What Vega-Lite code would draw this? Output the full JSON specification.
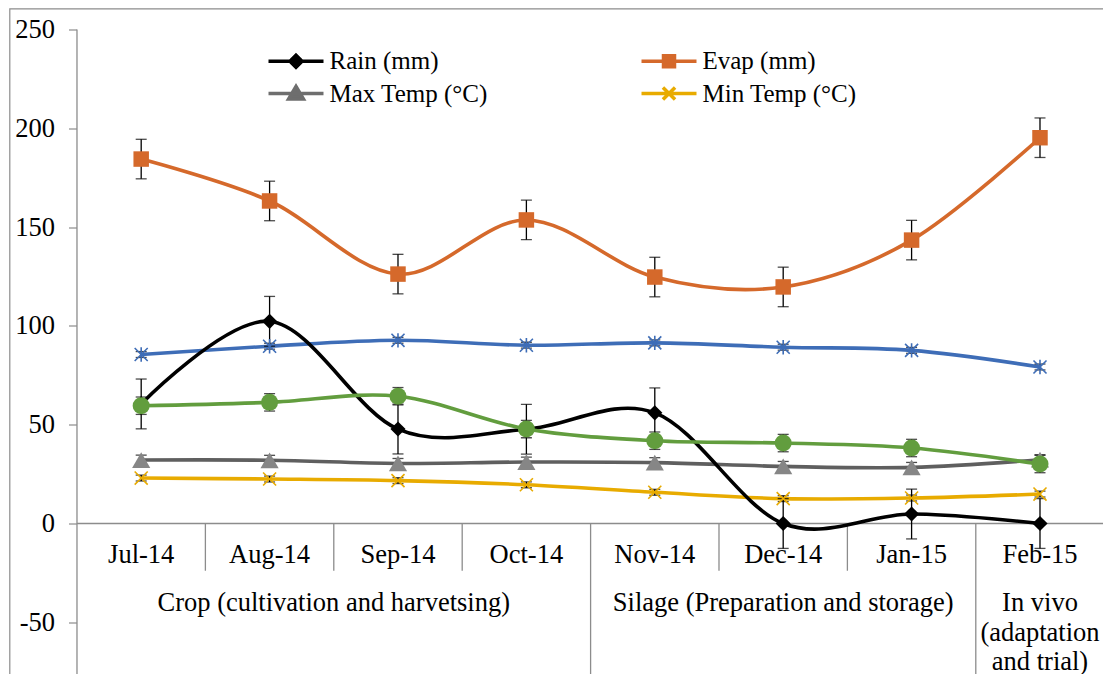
{
  "$schema": "https://vega.github.io/schema/vega-lite/v6.json",
  "width": 1096,
  "height": 668,
  "autosize": {"type": "none"},
  "padding": {"left": 9.5, "top": 8.5, "right": 0, "bottom": 0},
  "background": "white",
  "config": {
    "view": {"stroke": "#8c8c8c", "strokeWidth": 1.2},
    "font": "Liberation Serif",
    "axisX": {"disable": true},
    "axisY": {"domain": false, "grid": false, "ticks": true, "tickColor": "#8c8c8c", "tickWidth": 1.2, "tickSize": 8, "labelFont": "Liberation Serif", "labelFontSize": 26.5, "labelColor": "#000000", "labelPadding": 14, "offset": -67}
  },
  "datasets": {
    "main": [
      {"month": "Jul-14", "series": "Max Temp (°C)", "value": 32.1, "err": 2.5},
      {"month": "Aug-14", "series": "Max Temp (°C)", "value": 32.0, "err": 2.5},
      {"month": "Sep-14", "series": "Max Temp (°C)", "value": 30.4, "err": 2.5},
      {"month": "Oct-14", "series": "Max Temp (°C)", "value": 31.1, "err": 2.5},
      {"month": "Nov-14", "series": "Max Temp (°C)", "value": 30.8, "err": 2.5},
      {"month": "Dec-14", "series": "Max Temp (°C)", "value": 28.9, "err": 2.5},
      {"month": "Jan-15", "series": "Max Temp (°C)", "value": 28.4, "err": 2.5},
      {"month": "Feb-15", "series": "Max Temp (°C)", "value": 32.3, "err": 2.5},
      {"month": "Jul-14", "series": "Min Temp (°C)", "value": 23.0, "err": 1.5},
      {"month": "Aug-14", "series": "Min Temp (°C)", "value": 22.5, "err": 1.5},
      {"month": "Sep-14", "series": "Min Temp (°C)", "value": 21.7, "err": 1.5},
      {"month": "Oct-14", "series": "Min Temp (°C)", "value": 19.6, "err": 1.5},
      {"month": "Nov-14", "series": "Min Temp (°C)", "value": 15.8, "err": 1.5},
      {"month": "Dec-14", "series": "Min Temp (°C)", "value": 12.6, "err": 1.5},
      {"month": "Jan-15", "series": "Min Temp (°C)", "value": 12.9, "err": 1.5},
      {"month": "Feb-15", "series": "Min Temp (°C)", "value": 14.9, "err": 1.5},
      {"month": "Jul-14", "series": "Series 5", "value": 85.5, "err": 1.5},
      {"month": "Aug-14", "series": "Series 5", "value": 89.7, "err": 1.5},
      {"month": "Sep-14", "series": "Series 5", "value": 92.7, "err": 1.5},
      {"month": "Oct-14", "series": "Series 5", "value": 90.2, "err": 1.5},
      {"month": "Nov-14", "series": "Series 5", "value": 91.4, "err": 1.5},
      {"month": "Dec-14", "series": "Series 5", "value": 89.2, "err": 1.5},
      {"month": "Jan-15", "series": "Series 5", "value": 87.6, "err": 1.5},
      {"month": "Feb-15", "series": "Series 5", "value": 79.2, "err": 1.5},
      {"month": "Jul-14", "series": "Rain (mm)", "value": 60.5, "err": 12.6},
      {"month": "Aug-14", "series": "Rain (mm)", "value": 102.3, "err": 12.6},
      {"month": "Sep-14", "series": "Rain (mm)", "value": 47.8, "err": 12.6},
      {"month": "Oct-14", "series": "Rain (mm)", "value": 47.7, "err": 12.6},
      {"month": "Nov-14", "series": "Rain (mm)", "value": 56.0, "err": 12.6},
      {"month": "Dec-14", "series": "Rain (mm)", "value": 0.0, "err": 12.6},
      {"month": "Jan-15", "series": "Rain (mm)", "value": 4.8, "err": 12.6},
      {"month": "Feb-15", "series": "Rain (mm)", "value": 0.0, "err": 12.6},
      {"month": "Jul-14", "series": "Evap (mm)", "value": 184.4, "err": 10},
      {"month": "Aug-14", "series": "Evap (mm)", "value": 163.2, "err": 10},
      {"month": "Sep-14", "series": "Evap (mm)", "value": 126.2, "err": 10},
      {"month": "Oct-14", "series": "Evap (mm)", "value": 153.6, "err": 10},
      {"month": "Nov-14", "series": "Evap (mm)", "value": 124.7, "err": 10},
      {"month": "Dec-14", "series": "Evap (mm)", "value": 119.7, "err": 10},
      {"month": "Jan-15", "series": "Evap (mm)", "value": 143.4, "err": 10},
      {"month": "Feb-15", "series": "Evap (mm)", "value": 195.2, "err": 10},
      {"month": "Jul-14", "series": "Series 6", "value": 59.6, "err": 4.4},
      {"month": "Aug-14", "series": "Series 6", "value": 61.3, "err": 4.4},
      {"month": "Sep-14", "series": "Series 6", "value": 64.4, "err": 4.4},
      {"month": "Oct-14", "series": "Series 6", "value": 47.8, "err": 4.4},
      {"month": "Nov-14", "series": "Series 6", "value": 41.9, "err": 4.4},
      {"month": "Dec-14", "series": "Series 6", "value": 40.7, "err": 4.4},
      {"month": "Jan-15", "series": "Series 6", "value": 38.2, "err": 4.4},
      {"month": "Feb-15", "series": "Series 6", "value": 30.1, "err": 4.4}
    ],
    "cats": [
      {"month": "Jul-14"}, {"month": "Aug-14"}, {"month": "Sep-14"}, {"month": "Oct-14"},
      {"month": "Nov-14"}, {"month": "Dec-14"}, {"month": "Jan-15"}, {"month": "Feb-15"}
    ],
    "grp": [
      {"label": "Crop (cultivation and harvetsing)", "at": "Sep-14", "kind": "edge"},
      {"label": "Silage (Preparation and storage)", "at": "Dec-14", "kind": "mid"},
      {"label": "In vivo\n(adaptation\nand trial)", "at": "Feb-15", "kind": "mid"}
    ]
  },
  "layer": [
    {
      "data": {"name": "cats"},
      "transform": [{"filter": {"field": "month", "equal": "Jul-14"}}],
      "mark": {"type": "rule", "color": "#8c8c8c", "strokeWidth": 1.3},
      "encoding": {
        "x": {"field": "month", "type": "nominal", "bandPosition": 0, "axis": null,
          "scale": {"type": "band", "domain": ["Jul-14", "Aug-14", "Sep-14", "Oct-14", "Nov-14", "Dec-14", "Jan-15", "Feb-15"], "paddingInner": 0, "paddingOuter": 0.2679, "align": 0.981}},
        "y": {"datum": 250, "type": "quantitative", "title": null,
          "scale": {"domain": [-77.41, 260.58], "nice": false, "zero": false},
          "axis": {"values": [-50, 0, 50, 100, 150, 200, 250], "title": null, "labelFont": "Liberation Serif", "labelFontSize": 26.5, "labelColor": "#000000", "labelExpr": "replace(datum.label, '\u2212', '-')"}},
        "y2": {"datum": -77.41}
      }
    },
    {
      "data": {"name": "cats"},
      "transform": [{"filter": {"field": "month", "equal": "Jul-14"}}],
      "mark": {"type": "rule", "color": "#8c8c8c", "strokeWidth": 1.3},
      "encoding": {
        "x": {"field": "month", "type": "nominal", "bandPosition": 0, "axis": null},
        "x2": {"datum": "Feb-15", "bandPosition": 1},
        "y": {"datum": 0, "type": "quantitative", "title": null}
      }
    },
    {
      "data": {"name": "cats"},
      "transform": [{"filter": {"field": "month", "oneOf": ["Aug-14", "Sep-14", "Oct-14", "Dec-14", "Jan-15"]}}],
      "mark": {"type": "rule", "color": "#8c8c8c", "strokeWidth": 1.3},
      "encoding": {
        "x": {"field": "month", "type": "nominal", "bandPosition": 0, "axis": null},
        "y": {"datum": 0, "type": "quantitative", "title": null},
        "y2": {"datum": -23.9}
      }
    },
    {
      "data": {"name": "cats"},
      "transform": [{"filter": {"field": "month", "oneOf": ["Nov-14", "Feb-15"]}}],
      "mark": {"type": "rule", "color": "#8c8c8c", "strokeWidth": 1.3},
      "encoding": {
        "x": {"field": "month", "type": "nominal", "bandPosition": 0, "axis": null},
        "y": {"datum": 0, "type": "quantitative", "title": null},
        "y2": {"datum": -77.41}
      }
    },
    {
      "data": {"name": "cats"},
      "mark": {"type": "text", "font": "Liberation Serif", "fontSize": 26.5, "color": "#000000", "align": "center", "baseline": "alphabetic"},
      "encoding": {
        "x": {"field": "month", "type": "nominal", "axis": null},
        "y": {"datum": -19.8, "type": "quantitative", "title": null},
        "text": {"field": "month"}
      }
    },
    {
      "data": {"name": "grp"},
      "transform": [{"filter": {"field": "kind", "equal": "edge"}}],
      "mark": {"type": "text", "font": "Liberation Serif", "fontSize": 26.5, "color": "#000000", "align": "center", "baseline": "alphabetic"},
      "encoding": {
        "x": {"field": "at", "type": "nominal", "bandPosition": 0, "axis": null},
        "y": {"datum": -44.3, "type": "quantitative", "title": null},
        "text": {"field": "label"}
      }
    },
    {
      "data": {"name": "grp"},
      "transform": [{"filter": {"field": "kind", "equal": "mid"}}],
      "mark": {"type": "text", "font": "Liberation Serif", "fontSize": 26.5, "color": "#000000", "align": "center", "baseline": "alphabetic", "lineBreak": "\n", "lineHeight": 29.5},
      "encoding": {
        "x": {"field": "at", "type": "nominal", "bandPosition": 0.5, "axis": null},
        "y": {"datum": -44.3, "type": "quantitative", "title": null},
        "text": {"field": "label"}
      }
    },
    {
      "data": {"name": "main"},
      "mark": {"type": "line", "interpolate": "cardinal", "strokeWidth": 3.6},
      "encoding": {
        "x": {"field": "month", "type": "nominal", "axis": null},
        "y": {"field": "value", "type": "quantitative", "title": null},
        "color": {
          "field": "series", "type": "nominal", "legend": null,
          "scale": {
            "domain": ["Max Temp (°C)", "Min Temp (°C)", "Series 5", "Rain (mm)", "Evap (mm)", "Series 6"],
            "range": ["#5f5f5f", "#e8ab00", "#3e6db7", "#000000", "#d5692b", "#629d3e"]
          }
        }
      }
    },
    {
      "data": {"name": "main"},
      "mark": {"type": "errorbar", "ticks": {"size": 11, "thickness": 1.3, "color": "#000000"}, "rule": {"strokeWidth": 1.3, "color": "#000000"}},
      "encoding": {
        "x": {"field": "month", "type": "nominal", "axis": null},
        "y": {"field": "value", "type": "quantitative", "title": null},
        "yError": {"field": "err"},
        "detail": {"field": "series"}
      }
    },
    {
      "data": {"name": "main"},
      "transform": [{"filter": {"field": "series", "equal": "Max Temp (°C)"}}],
      "mark": {"type": "point", "shape": "triangle-up", "filled": true, "size": 330, "color": "#868686", "opacity": 1},
      "encoding": {
        "x": {"field": "month", "type": "nominal", "axis": null},
        "y": {"field": "value", "type": "quantitative", "title": null}
      }
    },
    {
      "data": {"name": "main"},
      "transform": [{"filter": {"field": "series", "equal": "Min Temp (°C)"}}],
      "mark": {"type": "point", "shape": "M-1,-1L1,1M-1,1L1,-1", "filled": false, "size": 170, "color": "#e8ab00", "strokeWidth": 1.6, "opacity": 1},
      "encoding": {
        "x": {"field": "month", "type": "nominal", "axis": null},
        "y": {"field": "value", "type": "quantitative", "title": null}
      }
    },
    {
      "data": {"name": "main"},
      "transform": [{"filter": {"field": "series", "equal": "Series 5"}}],
      "mark": {"type": "point", "shape": "M-1,-1L1,1M-1,1L1,-1M0,-1.1L0,1.1", "filled": false, "size": 170, "color": "#3e6db7", "strokeWidth": 1.6, "opacity": 1},
      "encoding": {
        "x": {"field": "month", "type": "nominal", "axis": null},
        "y": {"field": "value", "type": "quantitative", "title": null}
      }
    },
    {
      "data": {"name": "main"},
      "transform": [{"filter": {"field": "series", "equal": "Rain (mm)"}}],
      "mark": {"type": "point", "shape": "diamond", "filled": true, "size": 230, "color": "#000000", "opacity": 1},
      "encoding": {
        "x": {"field": "month", "type": "nominal", "axis": null},
        "y": {"field": "value", "type": "quantitative", "title": null}
      }
    },
    {
      "data": {"name": "main"},
      "transform": [{"filter": {"field": "series", "equal": "Evap (mm)"}}],
      "mark": {"type": "point", "shape": "square", "filled": true, "size": 240, "color": "#d5692b", "opacity": 1},
      "encoding": {
        "x": {"field": "month", "type": "nominal", "axis": null},
        "y": {"field": "value", "type": "quantitative", "title": null}
      }
    },
    {
      "data": {"name": "main"},
      "transform": [{"filter": {"field": "series", "equal": "Series 6"}}],
      "mark": {"type": "point", "shape": "circle", "filled": true, "size": 290, "color": "#629d3e", "opacity": 1},
      "encoding": {
        "x": {"field": "month", "type": "nominal", "axis": null},
        "y": {"field": "value", "type": "quantitative", "title": null}
      }
    },
    {
      "data": {"name": "main"},
      "transform": [{"filter": {"field": "series", "oneOf": ["Rain (mm)", "Evap (mm)", "Max Temp (°C)", "Min Temp (°C)"]}}],
      "mark": {"type": "point", "filled": true, "opacity": 0, "size": 3025},
      "encoding": {
        "x": {"field": "month", "type": "nominal", "axis": null},
        "y": {"field": "value", "type": "quantitative", "title": null},
        "fill": {
          "field": "series", "type": "nominal",
          "scale": {"domain": ["Rain (mm)", "Max Temp (°C)", "Evap (mm)", "Min Temp (°C)"], "range": ["#000000", "#6e6e6e", "#d5692b", "#e8ab00"]},
          "legend": {"title": null, "orient": "none", "legendX": 257, "legendY": 40, "columns": 2, "columnPadding": 151, "rowPadding": 6.5, "clipHeight": 25, "symbolSize": 3025, "symbolStrokeWidth": 3.5, "symbolOpacity": 1, "labelFont": "Liberation Serif", "labelFontSize": 25, "labelColor": "#000000", "labelOffset": 4, "labelLimit": 400, "padding": 0}
        },
        "stroke": {
          "field": "series", "type": "nominal",
          "scale": {"domain": ["Rain (mm)", "Max Temp (°C)", "Evap (mm)", "Min Temp (°C)"], "range": ["#000000", "#6e6e6e", "#d5692b", "#e8ab00"]},
          "legend": {"title": null, "orient": "none", "legendX": 257, "legendY": 40, "columns": 2, "columnPadding": 151, "rowPadding": 6.5, "clipHeight": 25, "symbolSize": 3025, "symbolStrokeWidth": 3.5, "symbolOpacity": 1, "labelFont": "Liberation Serif", "labelFontSize": 25, "labelColor": "#000000", "labelOffset": 4, "labelLimit": 400, "padding": 0}
        },
        "shape": {
          "field": "series", "type": "nominal",
          "scale": {"domain": ["Rain (mm)", "Max Temp (°C)", "Evap (mm)", "Min Temp (°C)"], "range": [
            "M-1,0L1,0M0,-0.22L0.22,0L0,0.22L-0.22,0Z",
            "M-1,0L1,0M0,-0.26L0.27,0.2L-0.27,0.2Z",
            "M-1,0L1,0M-0.2,-0.2L0.2,-0.2L0.2,0.2L-0.2,0.2Z",
            "M-1,0L1,0M-0.22,-0.22L0.22,0.22M-0.22,0.22L0.22,-0.22"
          ]},
          "legend": {"title": null, "orient": "none", "legendX": 257, "legendY": 40, "columns": 2, "columnPadding": 151, "rowPadding": 6.5, "clipHeight": 25, "symbolSize": 3025, "symbolStrokeWidth": 3.5, "symbolOpacity": 1, "labelFont": "Liberation Serif", "labelFontSize": 25, "labelColor": "#000000", "labelOffset": 4, "labelLimit": 400, "padding": 0}
        }
      }
    }
  ]
}
